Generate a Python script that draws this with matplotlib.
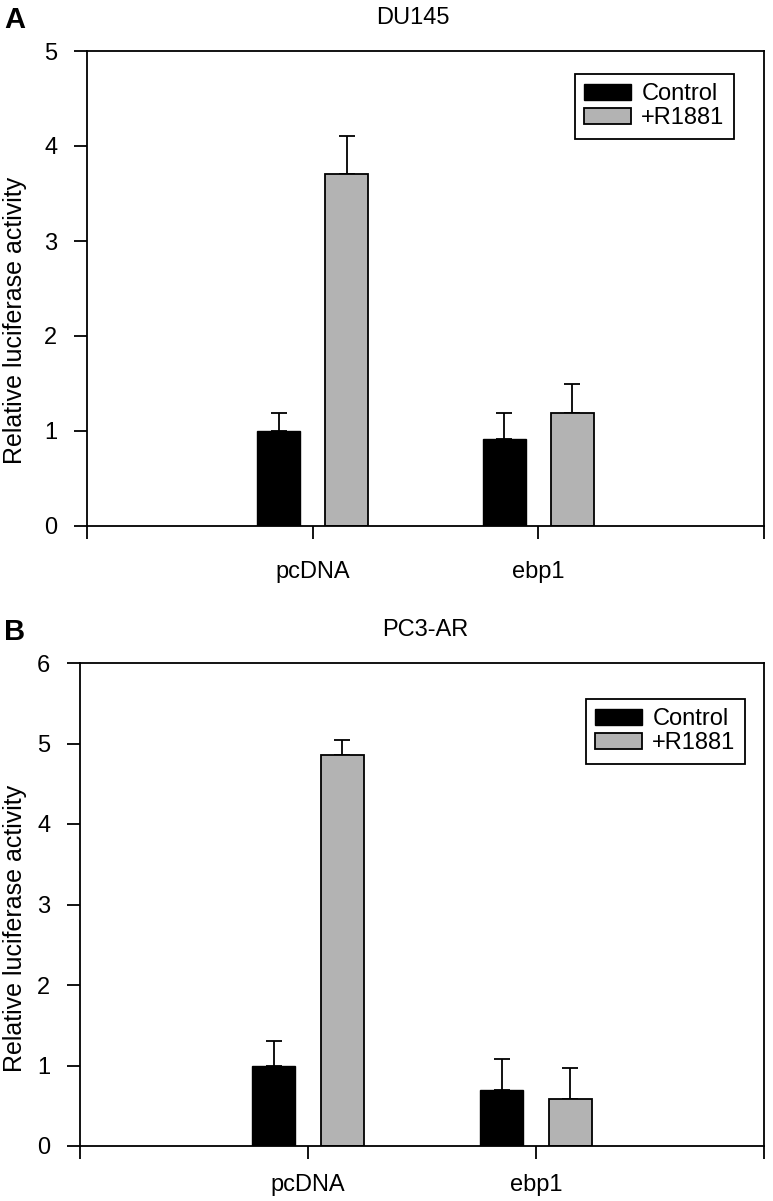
import matplotlib
matplotlib.use("Agg")
import matplotlib.pyplot as plt
import numpy as np

plt.rcParams['font.family'] = ['Liberation Sans', 'DejaVu Sans']

categories = ['pcDNA', 'ebp1']
series_names = ['Control', '+R1881']

du145_control = [1.00, 0.92]
du145_control_err = [0.19, 0.27]
du145_r1881 = [3.70, 1.19]
du145_r1881_err = [0.40, 0.30]

pc3ar_control = [1.00, 0.70]
pc3ar_control_err = [0.30, 0.38]
pc3ar_r1881 = [4.86, 0.58]
pc3ar_r1881_err = [0.18, 0.39]

yticks_a = [0, 1, 2, 3, 4, 5]
yticks_b = [0, 1, 2, 3, 4, 5, 6]

W, H = 773, 1201
fig = plt.figure(figsize=(W / 100, H / 100), dpi=100)

gray = '#b3b3b3'


def panel(rect, title, letter, title_xy, letter_y, ctrl, ctrl_err, r, r_err, yticks,
          legend_anchor, ylabel_y, xpad):
    l, t, r_, b = rect
    ax = fig.add_axes([l / W, 1 - b / H, (r_ - l) / W, (b - t) / H])
    centers = np.arange(1, len(categories) + 1)
    width = 0.19
    off = 0.15
    ax.bar(centers - off, ctrl, width, color='black', edgecolor='black', linewidth=1,
           label=series_names[0], zorder=2)
    ax.bar(centers + off, r, width, color=gray, edgecolor='black', linewidth=1.3,
           label=series_names[1], zorder=2)
    ax.errorbar(centers - off, ctrl, yerr=[np.zeros(len(ctrl)), ctrl_err], fmt='none',
                ecolor='black', elinewidth=1.3, capsize=5.5, capthick=1.3, zorder=1)
    ax.errorbar(centers + off, r, yerr=[np.zeros(len(r)), r_err], fmt='none',
                ecolor='black', elinewidth=1.3, capsize=5.5, capthick=1.3, zorder=1)
    ax.set_xlim(0, 3)
    ax.set_ylim(yticks[0], yticks[-1])
    ax.set_xticks([0, 1, 2, 3])
    ax.set_xticklabels([''] + categories + [''])
    ax.set_yticks(yticks)
    ax.tick_params(axis='both', direction='out', length=9.4, width=1.3, labelsize=17,
                   colors='black')
    ax.tick_params(axis='y', pad=12)
    ax.tick_params(axis='x', pad=xpad)
    for s in ax.spines.values():
        s.set_linewidth(1.3)
    ax.set_ylabel('Relative luciferase activity', fontsize=18)
    ax.yaxis.set_label_coords((27 - l) / (r_ - l), (b - ylabel_y) / (b - t))
    fig.text(title_xy[0] / W, 1 - title_xy[1] / H, title, ha='center', va='center', fontsize=17)
    fig.text(4 / W, 1 - letter_y / H, letter, ha='left', va='center', fontsize=21,
             fontweight='bold')
    leg = ax.legend(loc='upper right', bbox_to_anchor=legend_anchor,
                    bbox_transform=fig.transFigure,
                    fontsize=17, frameon=True, fancybox=False, edgecolor='black',
                    framealpha=1, handlelength=2.0, handleheight=0.62,
                    handletextpad=0.42, borderpad=0.4, labelspacing=0.08,
                    borderaxespad=0)
    leg.get_frame().set_linewidth(1.3)
    return ax


panel((87, 51, 764, 526), 'DU145', 'A', (413, 18), 20,
      du145_control, du145_control_err, du145_r1881, du145_r1881_err, yticks_a,
      (734 / W, 1 - 74 / H), 320, 16)
panel((80, 663, 764, 1146), 'PC3-AR', 'B', (425, 630), 632,
      pc3ar_control, pc3ar_control_err, pc3ar_r1881, pc3ar_r1881_err, yticks_b,
      (745 / W, 1 - 699 / H), 928, 11)

fig.savefig('out.png', dpi=100)
